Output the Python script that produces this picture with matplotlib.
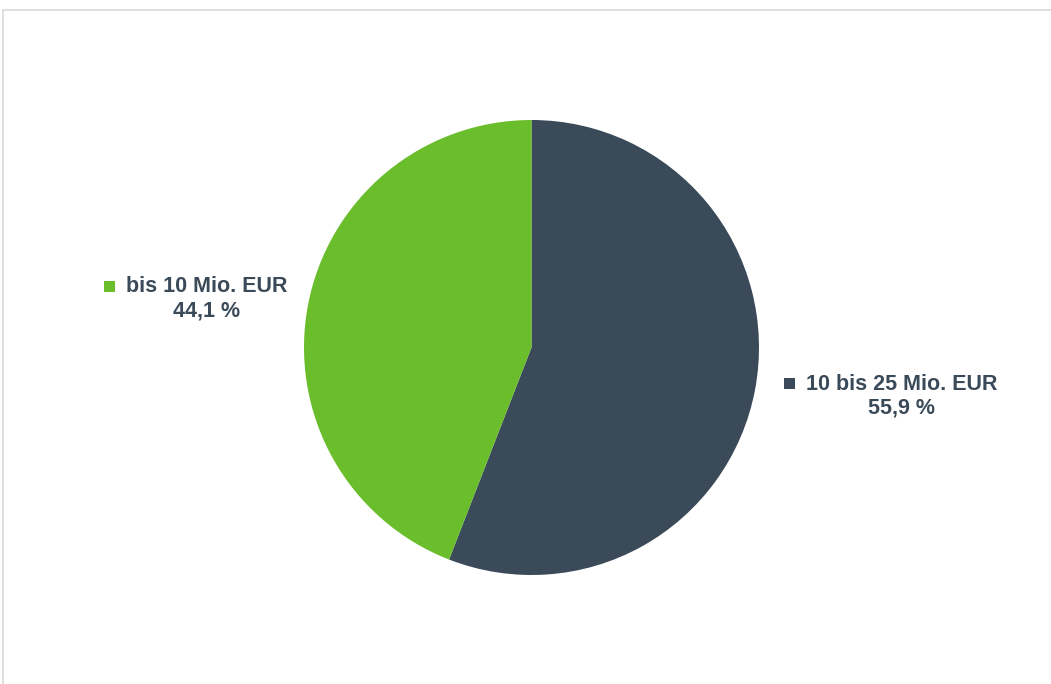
import matplotlib.pyplot as plt
from matplotlib.patches import Rectangle
from matplotlib.lines import Line2D

# data
categories = ["10 bis 25 Mio. EUR", "bis 10 Mio. EUR"]
shares = [55.9, 44.1]
colors = ["#3A4A59", "#6ABD2B"]
text_color = "#3A4A59"

W, H = 1051, 684
fig = plt.figure(figsize=(W / 100, H / 100), dpi=100)
fig.patch.set_facecolor("white")

# pie centred at (531.5, 347.5) px from top, radius 227.5 px
cx, cy, r = 531.5, 347.5, 227.5
ax = fig.add_axes([(cx - r) / W, (H - cy - r) / H, 2 * r / W, 2 * r / H])
ax.pie(shares, colors=colors, startangle=90, counterclock=False,
       radius=1, wedgeprops=dict(linewidth=0))
ax.set_xlim(-1, 1)
ax.set_ylim(-1, 1)
ax.set_aspect("equal")
ax.axis("off")

# outer frame (light grey, open at right/bottom)
fig.add_artist(Line2D([3 / W, 3 / W], [0, 1 - 10 / H], transform=fig.transFigure,
                      color="#DADADA", lw=1.2))
fig.add_artist(Line2D([3 / W, 1], [1 - 10 / H, 1 - 10 / H], transform=fig.transFigure,
                      color="#DADADA", lw=1.2))


def label(name, value, color, sq_x, sq_y, text_cx, y1):
    fig.add_artist(Rectangle((sq_x / W, 1 - (sq_y + 11) / H), 11 / W, 11 / H,
                             transform=fig.transFigure, color=color, lw=0))
    fig.text(text_cx / W, 1 - y1 / H, name, ha="center", va="center",
             fontsize=15.5, fontweight="bold", color=text_color,
             family="Liberation Sans")
    fig.text(text_cx / W, 1 - (y1 + 24) / H, f"{value:.1f} %".replace(".", ","),
             ha="center", va="center", fontsize=15.5, fontweight="bold",
             color=text_color, family="Liberation Sans")


label(categories[1], shares[1], colors[1], 104, 281, 207, 287)
label(categories[0], shares[0], colors[0], 784, 378, 901.5, 384)

fig.savefig("out.png", dpi=100)
